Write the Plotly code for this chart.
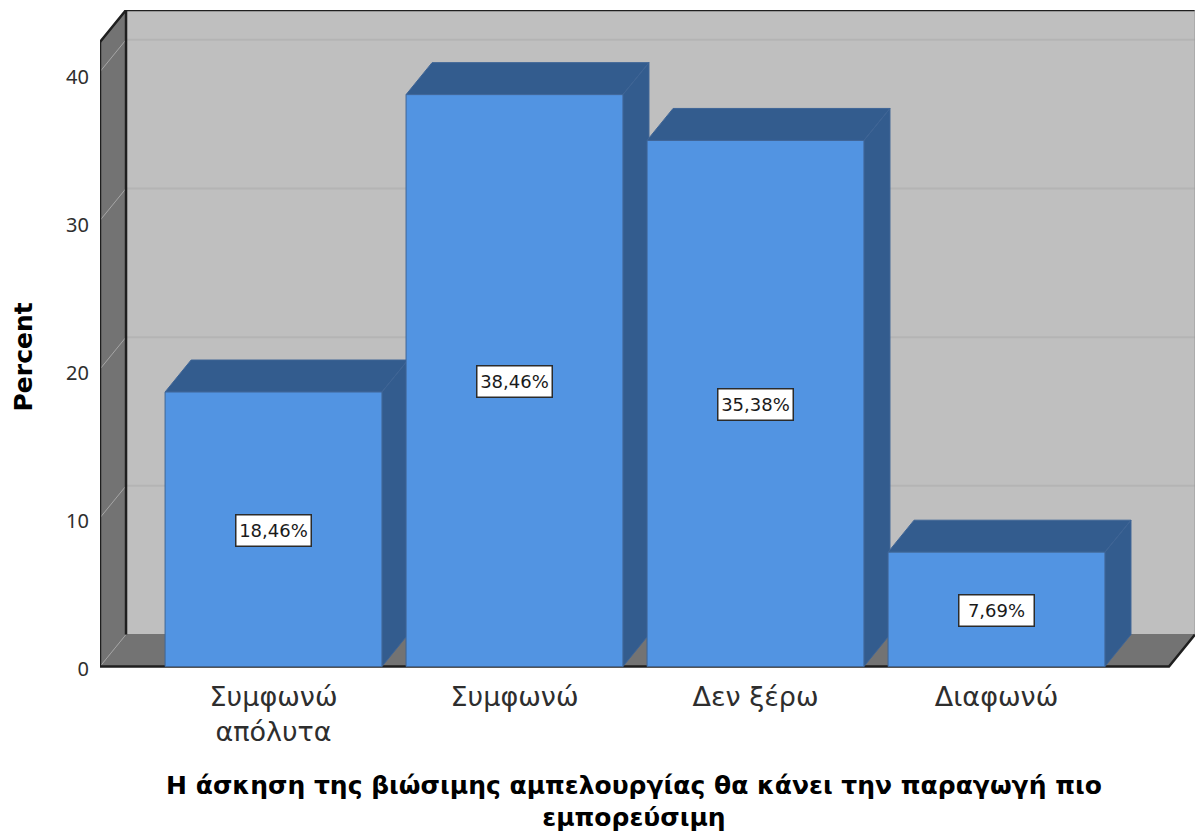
import plotly.graph_objects as go

# Data
categories = ["Συμφωνώ<br>απόλυτα", "Συμφωνώ", "Δεν ξέρω", "Διαφωνώ"]
values = [18.46, 38.46, 35.38, 7.69]
value_labels = ["18,46%", "38,46%", "35,38%", "7,69%"]
y_ticks = [0, 10, 20, 30, 40]
x_title = "Η άσκηση της βιώσιμης αμπελουργίας θα κάνει την παραγωγή πιο<br>εμπορεύσιμη"
y_title = "Percent"

# Pseudo-3D geometry, in axis units
DX = 0.108      # depth along x (category widths)
DY = 2.15       # depth along y (percent)
HALF = 0.45     # half bar width
X0, X1 = -0.72, 3.7157
Y1 = 42.0

FONT = "DejaVu Sans"
WALL, SIDE = "#bfbfbf", "#737373"
FRONT, SHADE, EDGE = "#5294e2", "#335c8e", "#3f6596"
INK = "#1f1f1f"

fig = go.Figure()


def poly(xs, ys, fill, line=None, width=1):
    fig.add_trace(go.Scatter(
        x=xs, y=ys, mode="lines", fill="toself" if fill else None,
        fillcolor=fill, line=dict(color=line or fill or "rgba(0,0,0,0)", width=width),
        cliponaxis=False, hoverinfo="skip", showlegend=False))


# Walls and floor
poly([X0 + DX, X1 + DX, X1 + DX, X0 + DX, X0 + DX], [DY, DY, Y1 + DY, Y1 + DY, DY], WALL)
poly([X0, X0 + DX, X0 + DX, X0, X0], [0, DY, Y1 + DY, Y1, 0], SIDE)
poly([X0, X1, X1 + DX, X0 + DX, X0], [0, 0, DY, DY, 0], SIDE)

# Gridlines
for t in y_ticks:
    if t > 0:
        poly([X0 + DX, X1 + DX], [t + DY, t + DY], None, "#b4b4b4", 2)
    poly([X0, X0 + DX], [t, t + DY], None, "#a6a6a6", 1)

# Wall outlines
poly([X0, X0], [0, Y1], None, INK, 2.5)
poly([X0 + DX, X0 + DX], [DY, Y1 + DY], None, INK, 2.5)
poly([X0, X0 + DX, X1 + DX], [Y1, Y1 + DY, Y1 + DY], None, INK, 2.5)
poly([X0, X1, X1 + DX], [0, 0, DY], None, INK, 2.5)
poly([X1 + DX, X1 + DX], [DY, Y1 + DY], None, "#999999", 1)

# Bars
for i, v in enumerate(values):
    l, r = i - HALF, i + HALF
    poly([l, r, r + DX, l + DX, l], [v, v, v + DY, v + DY, v], SHADE, EDGE)
    poly([r, r + DX, r + DX, r, r], [0, DY, v + DY, v, 0], SHADE, EDGE)
    poly([l, r, r, l, l], [0, 0, v, v, 0], FRONT, EDGE)

# Invisible traces that carry the title and value-label axes
fig.add_trace(go.Scatter(x=[0, 0], y=[0, 40], xaxis="x", yaxis="y2", mode="markers",
                         marker=dict(opacity=0), hoverinfo="skip", showlegend=False))
fig.add_trace(go.Scatter(x=[0, 3], y=[0, 0], xaxis="x2", yaxis="y", mode="markers",
                         marker=dict(opacity=0), hoverinfo="skip", showlegend=False))

for i, v in enumerate(values):
    fig.add_annotation(x=i, y=v / 2, text=value_labels[i], showarrow=False, yshift=-1,
                       width=70, height=26, borderpad=2,
                       font=dict(family=FONT, size=18, color="#1a1a1a"),
                       bgcolor="white", bordercolor="#2b2b2b", borderwidth=1.5)

fig.update_layout(
    width=1195, height=832, autosize=False,
    margin=dict(l=100, r=0, t=10, b=160, autoexpand=False),
    paper_bgcolor="white", plot_bgcolor="rgba(0,0,0,0)", showlegend=False,
    xaxis=dict(range=[X0, X1 + DX], tickvals=list(range(len(categories))), ticktext=categories,
               showgrid=False, zeroline=False, showline=False, ticks="",
               ticklabelstandoff=6, automargin=False,
               tickfont=dict(family=FONT, size=27, color="#2e2e2e")),
    xaxis2=dict(domain=[0, 0.9753], range=[X0, 3.7116], anchor="y",
                showgrid=False, zeroline=False, showline=False, ticks="",
                showticklabels=False, automargin=False,
                title=dict(text="<b>" + x_title + "</b>", standoff=104,
                           font=dict(family=FONT, size=25, color="#000000"))),
    yaxis=dict(range=[-0.37, Y1 + DY], showgrid=False, zeroline=False, showline=False,
               ticks="", showticklabels=False),
    yaxis2=dict(domain=[0, 0.952], range=[-0.203, 42.38], side="left", anchor="x",
                tickvals=y_ticks, showgrid=False, zeroline=False, showline=False,
                ticks="", ticklabelstandoff=10, automargin=False,
                tickfont=dict(family="Noto Sans", size=20, color="#2e2e2e"),
                title=dict(text="<b>" + y_title + "</b>", standoff=26,
                           font=dict(family=FONT, size=25, color="#000000"))),
)

fig.write_html("out.html", config={"displayModeBar": False},
               post_script="document.body.style.margin='0';document.documentElement.style.overflow='hidden';")
